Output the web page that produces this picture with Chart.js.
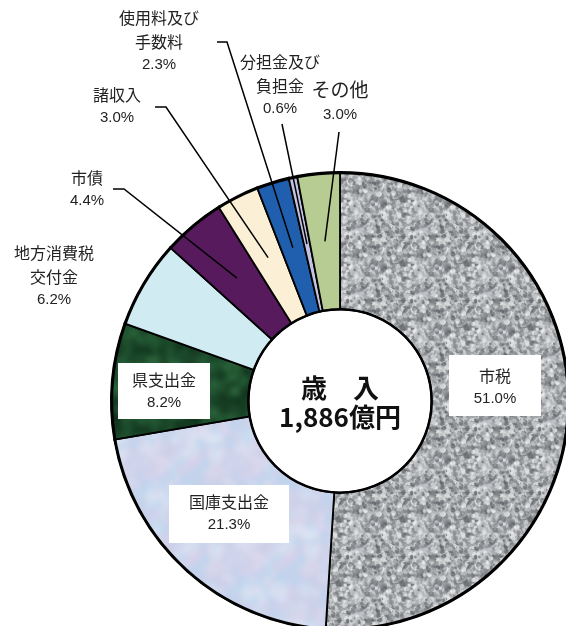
<!DOCTYPE html>
<html lang="ja">
<head>
<meta charset="utf-8">
<script src="https://cdn.jsdelivr.net/npm/chart.js@4.4.1/dist/chart.umd.min.js"></script>
<style>
  html, body { margin: 0; padding: 0; background: #fff; overflow: hidden; }
  #wrap { width: 566px; height: 626px; overflow: hidden; }
</style>
</head>
<body>
<div id="wrap"><canvas id="c" width="580" height="640"></canvas></div>
<script>
// 歳入の内訳（%）
const categories = ['市税', '国庫支出金', '県支出金', '地方消費税交付金', '市債', '諸収入', '使用料及び手数料', '分担金及び負担金', 'その他'];
const shares = [51.0, 21.3, 8.2, 6.2, 4.4, 3.0, 2.3, 0.6, 3.0];
const labelLines = [['市税'], ['国庫支出金'], ['県支出金'], ['地方消費税', '交付金'], ['市債'], ['諸収入'], ['使用料及び', '手数料'], ['分担金及び', '負担金'], ['その他']];
const centerTitle = '歳　入';
const centerTotal = '1,886億円';

const canvas = document.getElementById('c');
const ctx = canvas.getContext('2d');

// soft mottled texture (deterministic)
function texture(base, spots, seed, size, blob, alpha, blur) {
  const off = document.createElement('canvas');
  off.width = size * 3; off.height = size * 3;
  const g = off.getContext('2d');
  g.fillStyle = base;
  g.fillRect(0, 0, size * 3, size * 3);
  let s = seed;
  const rnd = () => { s = (s * 1103515245 + 12345) % 2147483648; return s / 2147483648; };
  const n = size * size / (blob * 1.5);
  for (let i = 0; i < n; i++) {
    const c = spots[Math.floor(rnd() * spots.length)];
    const a = alpha * (0.4 + rnd() * 0.6);
    const w = blob * (0.5 + rnd());
    const px = rnd() * size, py = rnd() * size;
    const h = w * (0.5 + rnd() * 0.7), rot = rnd() * 3;
    g.fillStyle = c;
    g.globalAlpha = a;
    // tile 3x3 so the blurred centre tile wraps cleanly
    for (let ox = 0; ox < 3; ox++) for (let oy = 0; oy < 3; oy++) {
      g.beginPath();
      g.ellipse(px + ox * size, py + oy * size, w, h, rot, 0, Math.PI * 2);
      g.fill();
    }
  }
  const out = document.createElement('canvas');
  out.width = size; out.height = size;
  const o = out.getContext('2d');
  o.filter = 'blur(' + blur + 'px)';
  o.drawImage(off, -size, -size);
  return ctx.createPattern(out, 'repeat');
}

const fills = [
  texture('#a2a5a8', ['#5e6266', '#d2d5d8', '#84888c', '#c2c5c8', '#eeeeee'], 7, 64, 2, 0.7, 0.6),
  texture('#c9dbef', ['#d9d2ea', '#bcd6ef', '#dfe6f4', '#cccfe8'], 11, 96, 7, 0.6, 2.5),
  texture('#1d4a2c', ['#2c6a3e', '#0c2716', '#3a7a4a', '#143a22'], 3, 80, 6, 0.45, 2.5),
  '#d0ebf1',
  '#571a5c',
  '#fbf0d6',
  '#1f5fae',
  '#c2c2e2',
  '#b6cc92'
];

// label placement: centre x, first line y, optional leader start points, optional white box
const labelPos = [
  { x: 495, y: 376, box: [449, 355, 92, 61] },
  { x: 229, y: 502, box: [169, 485, 120, 58] },
  { x: 164, y: 380, box: [118, 363, 92, 56] },
  { x: 54, y: 253 },
  { x: 87, y: 178, line: [[113, 189], [124, 189]] },
  { x: 117, y: 95, line: [[155, 107], [166, 107]] },
  { x: 159, y: 18, line: [[217, 42], [227, 42]] },
  { x: 280, y: 62, line: [[282, 124]] },
  { x: 340, y: 90, line: [[339, 132]], big: true }
];

const labelPlugin = {
  id: 'labels',
  afterDatasetsDraw(chart) {
    const c = chart.ctx;
    const meta = chart.getDatasetMeta(0);
    const first = meta.data[0];
    // outer and inner rings
    c.save();
    c.strokeStyle = '#000';
    c.lineWidth = 2.5;
    c.beginPath();
    c.arc(first.x, first.y, first.outerRadius - 1, 0, Math.PI * 2);
    c.stroke();
    c.beginPath();
    c.arc(first.x, first.y, first.innerRadius, 0, Math.PI * 2);
    c.stroke();

    meta.data.forEach((arc, i) => {
      const p = labelPos[i];
      const lines = labelLines[i];
      const pct = shares[i].toFixed(1) + '%';
      if (p.box) {
        c.fillStyle = '#fff';
        c.fillRect(p.box[0], p.box[1], p.box[2], p.box[3]);
      }
      c.fillStyle = '#222';
      c.textAlign = 'center';
      c.textBaseline = 'middle';
      const lh = p.big ? 26 : 24;
      c.font = (p.big ? '19px' : '16px') + ' "Noto Sans CJK JP", sans-serif';
      lines.forEach((t, k) => c.fillText(t, p.x, p.y + k * lh));
      c.font = '15px "Liberation Sans Narrow", "Liberation Sans", sans-serif';
      c.fillText(pct, p.x, p.y + lines.length * lh - 1);
      if (p.line) {
        const mid = (arc.startAngle + arc.endAngle) / 2;
        const r = (arc.innerRadius + arc.outerRadius) / 2;
        const ex = arc.x + Math.cos(mid) * r;
        const ey = arc.y + Math.sin(mid) * r;
        c.strokeStyle = '#000';
        c.lineWidth = 1.5;
        c.beginPath();
        c.moveTo(p.line[0][0], p.line[0][1]);
        p.line.slice(1).forEach(q => c.lineTo(q[0], q[1]));
        c.lineTo(ex, ey);
        c.stroke();
      }
    });

    // centre caption
    c.fillStyle = '#111';
    c.textAlign = 'center';
    c.textBaseline = 'middle';
    c.font = 'bold 26px "Noto Sans CJK JP", sans-serif';
    c.fillText(centerTitle, first.x, first.y - 13);
    c.fillText(centerTotal, first.x, first.y + 16);
    c.restore();
  }
};

new Chart(ctx, {
  type: 'doughnut',
  data: {
    labels: categories,
    datasets: [{
      data: shares,
      backgroundColor: fills,
      borderColor: '#000',
      borderWidth: 1.8,
      borderJoinStyle: 'miter'
    }]
  },
  options: {
    responsive: false,
    animation: false,
    cutout: '40%',
    rotation: 0,
    layout: { padding: { left: 110, right: 10, top: 171, bottom: 9 } },
    plugins: {
      legend: { display: false },
      tooltip: { enabled: false }
    }
  },
  plugins: [labelPlugin]
});
</script>
</body>
</html>
